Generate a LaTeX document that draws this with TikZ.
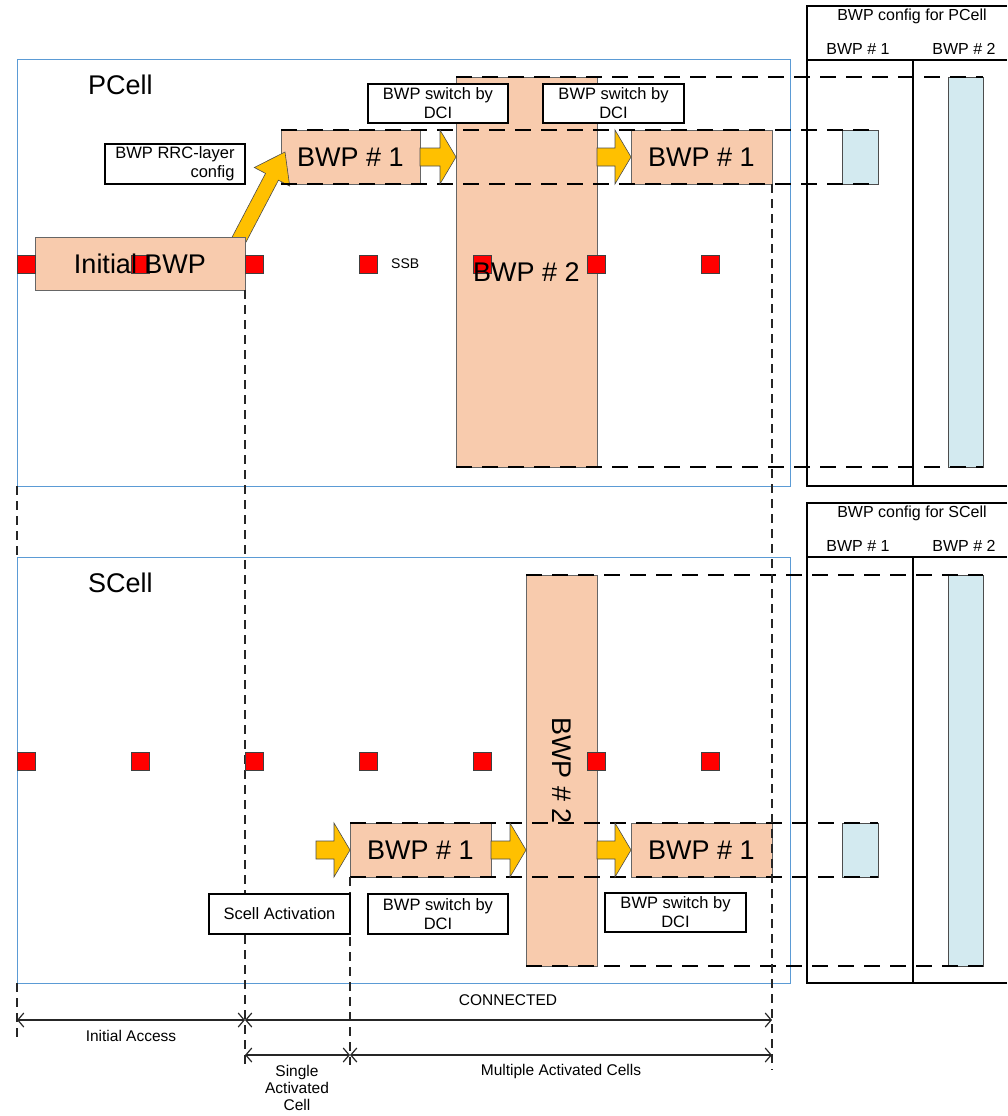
\documentclass[tikz,border=0pt]{standalone}
\usepackage{fontspec}
\setmainfont{Liberation Sans}
\usetikzlibrary{arrows.meta,calc}
\definecolor{peach}{HTML}{F8CBAD}
\definecolor{arrowyellow}{HTML}{FFC000}
\definecolor{cfgblue}{HTML}{D3EAF0}
\definecolor{frameblue}{HTML}{5B9BD5}
\definecolor{ssbred}{HTML}{FF0000}
\pgfdeclarelayer{bg}
\pgfsetlayers{bg,main}
\newcommand\fatarrow[2]{%
  \filldraw[fatarrowstyle] let \p1=#1, \p2=#2 in
    (\x1,\y1+9pt) -- (\x2-16pt,\y1+9pt) -- (\x2-16pt,\y1+27pt) -- (\x2,\y1)
    -- (\x2-16pt,\y1-27pt) -- (\x2-16pt,\y1-9pt) -- (\x1,\y1-9pt) -- cycle;}
\begin{document}
\begin{tikzpicture}[x=1pt,y=-1pt,
  cellframe/.style={draw=frameblue,line width=0.9pt},
  cfgline/.style={draw=black,line width=1.2pt},
  bwpbox/.style={rectangle,draw=black!60,line width=0.8pt,fill=peach,inner sep=0pt,outer sep=0pt,anchor=north west},
  cfgcell/.style={rectangle,draw=black!70,line width=0.8pt,fill=cfgblue,inner sep=0pt,outer sep=0pt,anchor=north west},
  notebox/.style={rectangle,draw=black,line width=1.1pt,fill=white,inner sep=0pt,outer sep=0pt,anchor=north west,font=\fontsize{16.5}{19}\selectfont,align=center},
  guide/.style={draw=black,line width=2.4pt,dash pattern=on 16pt off 10pt},
  timeguide/.style={draw=black!85,line width=1.1pt,dash pattern=on 9pt off 6pt},
  fatarrowstyle/.style={fill=arrowyellow,draw=black!70,line width=0.6pt},
  ssb/.style={rectangle,fill=ssbred,draw=black!75,line width=0.6pt,minimum size=18pt,inner sep=0pt},
  bigtext/.style={font=\fontsize{27}{30}\selectfont,inner sep=0pt},
  celltitle/.style={font=\fontsize{27}{30}\selectfont,inner sep=0pt,anchor=base west},
  cfgtext/.style={font=\fontsize{16}{19}\selectfont,inner sep=0pt},
  smalltext/.style={font=\fontsize{14}{16}\selectfont,inner sep=0pt},
  tltext/.style={font=\fontsize{15.5}{17}\selectfont,align=center,inner sep=0pt},
  span/.style={draw=black!85,line width=1.2pt,{Straight Barb[length=6pt,width=14pt]}-{Straight Barb[length=6pt,width=14pt]}},
]
\useasboundingbox (0,0) rectangle (1007,1116);

% cell frames
\begin{pgfonlayer}{bg}
\draw[cellframe] (17,59) rectangle (790,486);
\draw[cellframe] (17,557) rectangle (790,983);
\end{pgfonlayer}

% config tables
\draw[cfgline] (1007,6) -- (807,6) -- (807,486) -- (1007,486);
\draw[cfgline] (807,60) -- (1007,60);
\draw[cfgline] (913,60) -- (913,486);
\draw[cfgline] (1007,503) -- (807,503) -- (807,983) -- (1007,983);
\draw[cfgline] (807,557) -- (1007,557);
\draw[cfgline] (913,557) -- (913,983);
\node[cfgtext] (cfgPhead) at (912,16) {BWP config for PCell};
\node[cfgtext] (cfgP1) at (858,49) {BWP \# 1};
\node[cfgtext] (cfgP2) at (964,49) {BWP \# 2};
\node[cfgtext] (cfgShead) at (912,513) {BWP config for SCell};
\node[cfgtext] (cfgS1) at (858,546) {BWP \# 1};
\node[cfgtext] (cfgS2) at (964,546) {BWP \# 2};

% config cells
\node[cfgcell,minimum width=36pt,minimum height=54pt] (cp1) at (842,130) {};
\node[cfgcell,minimum width=35pt,minimum height=390pt] (cp2) at (948,77) {};
\node[cfgcell,minimum width=36pt,minimum height=54pt] (cs1) at (842,823) {};
\node[cfgcell,minimum width=35pt,minimum height=391pt] (cs2) at (948,575) {};

% BWP boxes
\node[bwpbox,minimum width=141pt,minimum height=390pt] (p2) at (456,77) {};
\node[bwpbox,minimum width=139pt,minimum height=54pt] (p1a) at (281,130) {};
\node[bwpbox,minimum width=141pt,minimum height=54pt] (p1b) at (631,130) {};
\node[bwpbox,minimum width=71pt,minimum height=391pt] (s2) at (526,575) {};
\node[bwpbox,minimum width=141pt,minimum height=54pt] (s1a) at (350,823) {};
\node[bwpbox,minimum width=141pt,minimum height=54pt] (s1b) at (631,823) {};

% diagonal arrow: from the initial BWP to BWP #1 (its base hidden under the initial BWP)
\coordinate (initNE) at (245,237);
\coordinate (dB) at ($(initNE)+(-8,6.5)$);
\coordinate (dT) at ($(p1a.west)+(4,-5)$);
\coordinate (dH) at ($(dT)!28pt!(dB)$);
\filldraw[fatarrowstyle]
  ($(dB)!7.3pt!90:(dT)$) -- ($(dH)!7.3pt!-90:(dB)$) -- ($(dH)!20pt!-90:(dB)$) -- (dT)
  -- ($(dH)!20pt!90:(dB)$) -- ($(dH)!7.3pt!90:(dB)$) -- ($(dB)!7.3pt!-90:(dT)$) -- cycle;
\node[bwpbox,anchor=north east,minimum width=210pt,minimum height=53pt] (initbwp) at (initNE) {};

% dashed guides
\draw[guide] (p2.north west) -- (cp2.north east);
\draw[guide] (p1a.north west) -- (cp1.north east);
\draw[guide] (p1a.south west) -- (cp1.south east);
\draw[guide] (p2.south west) -- (cp2.south east);
\draw[guide] (s2.north west) -- (cs2.north east);
\draw[guide] (s1a.north west) -- (cs1.north east);
\draw[guide] (s1a.south west) -- (cs1.south east);
\draw[guide] (s2.south west) -- (cs2.south east);

% time markers
\coordinate (m0a) at (17,486);
\coordinate (m0b) at (17,557);
\coordinate (m0c) at (17,983);
\coordinate (m0d) at (17,1040);
\draw[timeguide] (m0a) -- (m0b);
\draw[timeguide] (m0c) -- (m0d);
\draw[timeguide] (initbwp.south east) -- (initbwp.south east |- 0,1068);
\draw[timeguide] (s1a.south west) -- (s1a.south west |- 0,1065);
\draw[timeguide] (p1b.south east) -- (p1b.south east |- 0,1070);

% horizontal fat arrows
\coordinate (sa0) at (316,850);
\fatarrow{(p1a.east)}{(p2.west |- p1a.east)}
\fatarrow{(p2.east |- p1b.west)}{(p1b.west)}
\fatarrow{(sa0)}{(s1a.west)}
\fatarrow{(s1a.east)}{(s2.west |- s1a.east)}
\fatarrow{(s2.east |- s1b.west)}{(s1b.west)}

% SSB squares
\foreach \xx [count=\i] in {26,140,254,368,482,596,710}{
  \node[ssb] (pssb\i) at (\xx,264) {};
  \node[ssb] (sssb\i) at (\xx,761) {};
}
\node[smalltext,anchor=west] (ssblabel) at (391,264) {SSB};

% box texts
\node[bigtext] (initbwptxt) at (initbwp.center) {Initial BWP};
\node[bigtext] (p1atxt) at (p1a.center) {BWP \# 1};
\node[bigtext] (p1btxt) at (p1b.center) {BWP \# 1};
\node[bigtext] (p2txt) at (p2.center) {BWP \# 2};
\node[bigtext] (s1atxt) at (s1a.center) {BWP \# 1};
\node[bigtext] (s1btxt) at (s1b.center) {BWP \# 1};
\node[bigtext,rotate=-90] (s2txt) at (s2.center) {BWP \# 2};

% cell titles
\node[celltitle] (pcell) at (88,95) {PCell};
\node[celltitle] (scell) at (88,592) {SCell};

% note boxes
\node[notebox,align=right,minimum width=140pt,minimum height=40pt] (rrc) at (105,144) {BWP RRC-layer\\config};
\node[notebox,minimum width=140pt,minimum height=39pt] (dci1) at (368,84) {BWP switch by\\DCI};
\node[notebox,minimum width=141pt,minimum height=39pt] (dci2) at (543,84) {BWP switch by\\DCI};
\node[notebox,minimum width=141pt,minimum height=40pt] (scact) at (209,894) {Scell Activation};
\node[notebox,minimum width=140pt,minimum height=40pt] (dci3) at (368,894) {BWP switch by\\DCI};
\node[notebox,minimum width=141pt,minimum height=39pt] (dci4) at (605,893) {BWP switch by\\DCI};

% timeline spans
\coordinate (a0) at (17,1020);
\coordinate (a1) at (245,1020);
\coordinate (a2) at (772,1020);
\coordinate (b0) at (245,1055);
\coordinate (b1) at (350,1055);
\coordinate (b2) at (772,1055);
\draw[span] (a0) -- (a1);
\draw[span] (a1) -- (a2);
\draw[span] (b0) -- (b1);
\draw[span] (b1) -- (b2);
\node[tltext] (connected) at (508,1000) {CONNECTED};
\node[tltext] (initacc) at (131,1036) {Initial Access};
\node[tltext] (single) at (297,1088) {Single\\Activated\\Cell};
\node[tltext] (multi) at (561,1071) {Multiple Activated Cells};
\end{tikzpicture}
\end{document}
